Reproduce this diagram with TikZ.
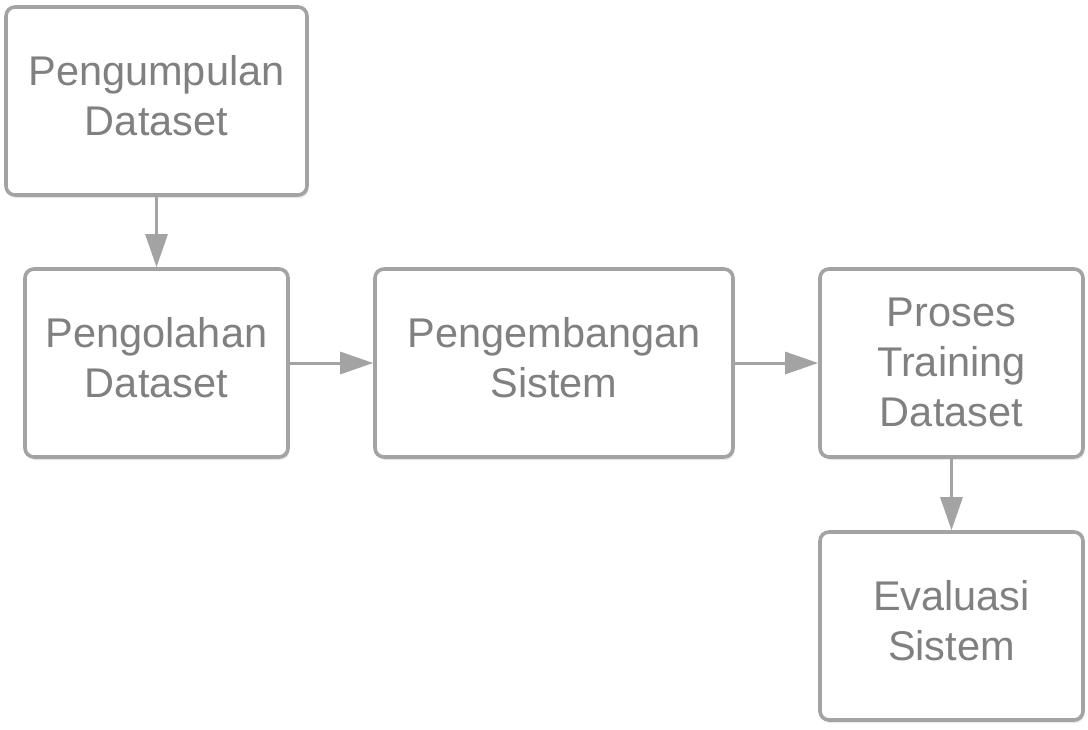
\documentclass[tikz,border=0pt]{standalone}
\usepackage{fontspec}
\setmainfont{Liberation Sans}
\usetikzlibrary{arrows.meta,shadows}
\definecolor{boxline}{HTML}{A3A3A3}
\definecolor{txt}{HTML}{808080}
\tikzset{
  stepbox/.style={draw=boxline, line width=3.6pt, rounded corners=9pt, fill=white,
    inner sep=0pt,
    drop shadow={opacity=0.18, shadow xshift=1.5pt, shadow yshift=-3pt}},
  boxtext/.style={text=txt, font=\fontsize{41.5}{50}\selectfont, align=center, inner sep=0pt},
  conn/.style={draw=boxline, line width=3pt, -{Triangle[length=33pt,width=22pt]}}
}
\begin{document}
\begin{tikzpicture}[x=1pt,y=-1pt]
\useasboundingbox (0,0) rectangle (1088,729);
\node[stepbox, minimum width=301pt, minimum height=188pt,
  label={[boxtext, yshift=5pt]center:Pengumpulan\\Dataset}] (a) at (156.5,101) {};
\node[stepbox, minimum width=263pt, minimum height=188pt,
  label={[boxtext, yshift=5pt]center:Pengolahan\\Dataset}] (b) at (156.5,363) {};
\node[stepbox, minimum width=358pt, minimum height=188pt,
  label={[boxtext, yshift=5pt]center:Pengembangan\\Sistem}] (c) at (554,363) {};
\node[stepbox, minimum width=263pt, minimum height=188pt,
  label={[boxtext, yshift=1pt]center:Proses\\Training\\Dataset}] (d) at (951.5,363) {};
\node[stepbox, minimum width=263pt, minimum height=188pt,
  label={[boxtext, yshift=5pt]center:Evaluasi\\Sistem}] (e) at (951.5,626) {};
\draw[conn] (a.south) -- (b.north);
\draw[conn] (b.east) -- (c.west);
\draw[conn] (c.east) -- (d.west);
\draw[conn] (d.south) -- (e.north);
\end{tikzpicture}
\end{document}
